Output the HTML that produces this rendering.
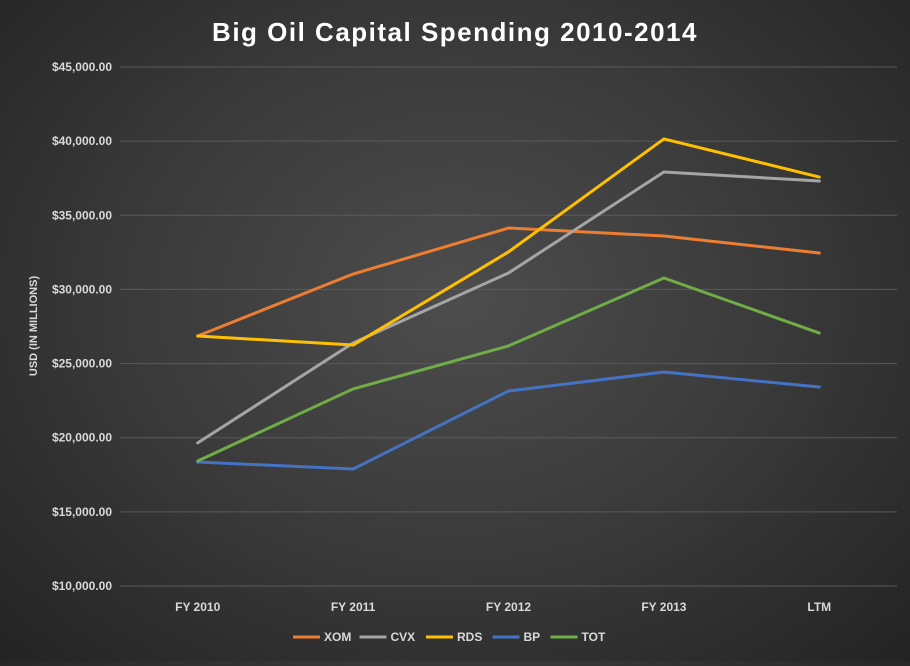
<!DOCTYPE html>
<html><head><meta charset="utf-8"><style>
html,body{margin:0;padding:0;}
body{width:910px;height:661px;overflow:hidden;background:radial-gradient(ellipse at 50% 45%,#4d4d4d 0%,#3a3a3a 50%,#232323 100%);font-family:"Liberation Sans",sans-serif;}
svg text{font-family:"Liberation Sans",sans-serif;}
</style></head><body>
<svg id="chart" width="910" height="661">
<text x="455" y="41" text-anchor="middle" fill="#fff" font-size="26" font-weight="bold" letter-spacing="1.5">Big Oil Capital Spending 2010-2014</text>
<text transform="translate(37,326) rotate(-90)" text-anchor="middle" fill="#d9d9d9" font-size="11" font-weight="bold">USD (IN MILLIONS)</text>
<g id="grid"></g><g id="ylab"></g><g id="xlab"></g><g id="lines"></g><g id="legend"></g>
</svg>
<script>
const categories=["FY 2010","FY 2011","FY 2012","FY 2013","LTM"];
const yTicks=[10000,15000,20000,25000,30000,35000,40000,45000];
const seriesNames=["XOM","CVX","RDS","BP","TOT"];
const seriesColors=["#ED7D31","#A5A5A5","#FFC000","#4472C4","#70AD47"];
const xom=[26860,31040,34140,33600,32460];
const cvx=[19650,26390,31110,37920,37310];
const rds=[26860,26250,32530,40150,37580];
const bp=[18360,17890,23150,24430,23420];
const tot=[18430,23290,26190,30770,27060];
const seriesValues=[xom,cvx,rds,bp,tot];
const NS="http://www.w3.org/2000/svg";
const L=120,R=897,T=67,B=586,ymin=10000,ymax=45000;
const xs=i=>L+(R-L)/categories.length*(i+0.5);
const ys=v=>B-(v-ymin)/(ymax-ymin)*(B-T);
function mk(t,a,p){const e=document.createElementNS(NS,t);for(const k in a)e.setAttribute(k,a[k]);p.appendChild(e);return e;}
const g=document.getElementById('grid'),yl=document.getElementById('ylab'),xl=document.getElementById('xlab'),ln=document.getElementById('lines'),lg=document.getElementById('legend');
yTicks.forEach(v=>{
 const l=mk('line',{x1:L,x2:R,y1:ys(v),y2:ys(v),stroke:'#5a5a5a','stroke-width':1},g);
 
 
 const t=mk('text',{x:112,y:ys(v)+4,'text-anchor':'end',fill:'#d9d9d9','font-size':12,'font-weight':'bold'},yl);
 t.textContent='$'+v.toLocaleString('en-US')+'.00';
 
 
});
categories.forEach((c,i)=>{
 const t=mk('text',{x:xs(i),y:611,'text-anchor':'middle',fill:'#d9d9d9','font-size':12,'font-weight':'bold'},xl);
 t.textContent=c;
 
 
});
seriesValues.forEach((vals,s)=>{
 const p=mk('polyline',{points:vals.map((v,i)=>xs(i)+','+ys(v)).join(' '),fill:'none',stroke:seriesColors[s],'stroke-width':3,'stroke-linejoin':'round','stroke-linecap':'round'},ln);
 
 
});
let x=293;
seriesNames.forEach((n,s)=>{
 const grp=mk('g',{},lg);
 
 
 mk('line',{x1:x,x2:x+27,y1:637,y2:637,stroke:seriesColors[s],'stroke-width':3},grp);
 const t=mk('text',{x:x+31,y:641,fill:'#d9d9d9','font-size':12,'font-weight':'bold'},grp);
 t.textContent=n;
 x+=31+n.length*8.5+10;
});
</script>
</body></html>
